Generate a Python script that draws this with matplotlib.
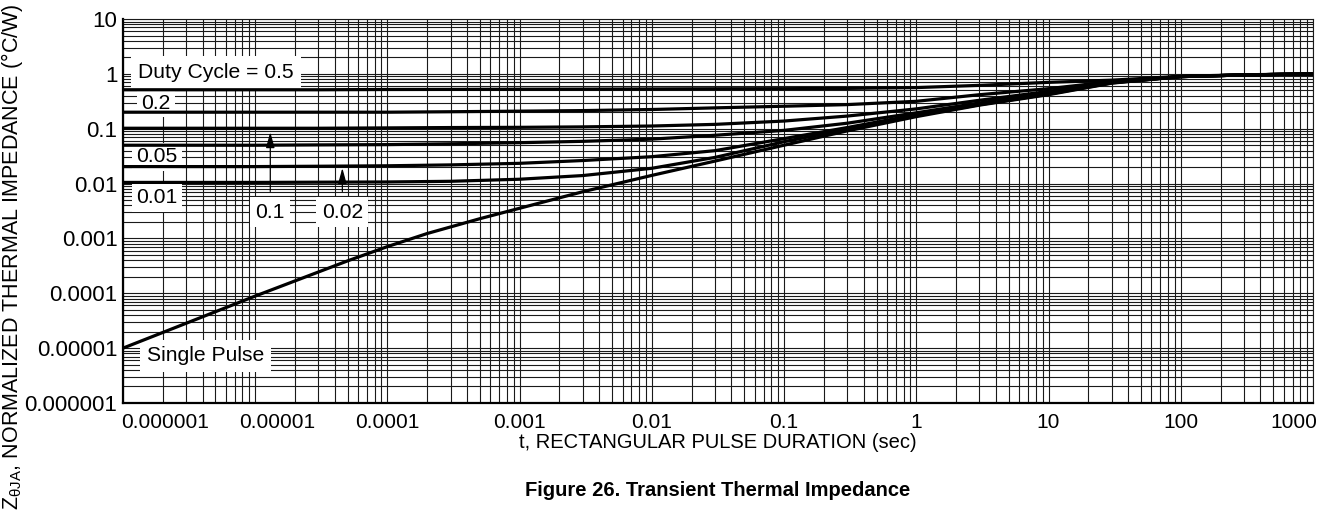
import numpy as np
import matplotlib
matplotlib.use("Agg")
import matplotlib.pyplot as plt
from matplotlib.ticker import LogLocator, NullFormatter

plt.rcParams['font.family'] = ['Liberation Sans', 'DejaVu Sans']
plt.rcParams['mathtext.fontset'] = 'custom'
plt.rcParams['mathtext.rm'] = 'Liberation Sans'
plt.rcParams['mathtext.it'] = 'Liberation Sans:italic'

# pulse duration (sec)
t = [1e-6, 3e-6, 1e-5, 3e-5, 1e-4, 3e-4, 1e-3, 3e-3, 1e-2, 3e-2,
     0.1, 0.3, 1, 3, 10, 30, 100, 300, 1000]

z_d05 = [0.513, 0.513, 0.513, 0.513, 0.519, 0.521, 0.525, 0.527, 0.531, 0.535,
         0.537, 0.543, 0.562, 0.617, 0.700, 0.767, 0.902, 0.962, 1.0]
z_d02 = [0.2, 0.2, 0.2, 0.2, 0.2, 0.204, 0.209, 0.214, 0.224, 0.240,
         0.257, 0.275, 0.316, 0.417, 0.537, 0.724, 0.891, 0.955, 1.0]
z_d01 = [0.102, 0.102, 0.102, 0.102, 0.1035, 0.105, 0.106, 0.108, 0.112, 0.120,
         0.138, 0.170, 0.230, 0.330, 0.479, 0.708, 0.891, 0.955, 1.0]
z_d005 = [0.050, 0.050, 0.050, 0.0507, 0.0513, 0.0531, 0.0556, 0.0589, 0.0646, 0.0759,
          0.0933, 0.126, 0.195, 0.295, 0.452, 0.700, 0.891, 0.955, 1.0]
z_d002 = [0.0204, 0.0204, 0.0204, 0.0207, 0.0211, 0.0219, 0.0234, 0.0263, 0.0309, 0.0398,
          0.066, 0.105, 0.180, 0.280, 0.437, 0.692, 0.891, 0.955, 1.0]
z_d001 = [0.0105, 0.0105, 0.0105, 0.0106, 0.0107, 0.011, 0.012, 0.0140, 0.019, 0.030,
          0.058, 0.098, 0.174, 0.274, 0.427, 0.684, 0.891, 0.955, 1.0]

# single pulse, read a bit denser where it bends
t_single = [1e-6, 1e-5, 5e-5, 1e-4, 2e-4, 5e-4, 1e-3, 3e-3, 1e-2, 3e-2,
            0.1, 0.3, 1, 3, 10, 30, 100, 300, 1000]
z_single = [1.0e-5, 8.9e-5, 3.9e-4, 7.1e-4, 1.23e-3, 2.29e-3, 3.55e-3, 7.1e-3, 0.0141, 0.0257,
            0.0501, 0.0912, 0.166, 0.269, 0.417, 0.676, 0.891, 0.955, 1.0]

# axis tick labels (x labels sit where the datasheet printed them)
x_label_pos = [2.08e-6, 1.47e-5, 1e-4, 1e-3, 1e-2, 0.1, 1, 10, 100, 718]
x_labels = ['0.000001', '0.00001', '0.0001', '0.001', '0.01', '0.1', '1', '10', '100', '1000']
y_ticks = [1e-6, 1e-5, 1e-4, 1e-3, 1e-2, 0.1, 1, 10]
y_labels = ['0.000001', '0.00001', '0.0001', '0.001', '0.01', '0.1', '1', '10']

fig = plt.figure(figsize=(13.29, 5.14), dpi=100)
ax = fig.add_axes([123/1329, 111/514, 1190/1329, 384/514])
ax.set_xscale('log')
ax.set_yscale('log')
ax.set_xlim(1e-6, 1000)
ax.set_ylim(1e-6, 10)

for z in [z_d05, z_d02, z_d01, z_d005, z_d002, z_d001]:
    ax.plot(t, z, color='black', lw=2.3, solid_capstyle='butt', zorder=4)
ax.plot(t_single, z_single, color='black', lw=2.3, solid_capstyle='butt', zorder=4)

# grid on every 1..9 of each decade
for axis in [ax.xaxis, ax.yaxis]:
    axis.set_minor_locator(LogLocator(base=10, subs=np.arange(1, 10), numticks=100))
    axis.set_minor_formatter(NullFormatter())
    axis.remove_overlapping_locs = False
ax.set_xticks(x_label_pos, labels=x_labels)
ax.set_yticks(y_ticks, labels=y_labels)
ax.grid(False, which='major')
ax.grid(True, which='minor', color='#1a1a1a', lw=0.8, zorder=0)
ax.tick_params(which='both', length=0)
ax.tick_params(axis='x', pad=7, labelsize=15)
ax.tick_params(axis='y', pad=4, labelsize=16)
ax.set_axisbelow(True)

for side in ['left', 'bottom']:
    ax.spines[side].set_linewidth(1.6)
for side in ['top', 'right']:
    ax.spines[side].set_linewidth(0.8)
    ax.spines[side].set_color('#1a1a1a')

fs = 15.2
box = dict(facecolor='white', edgecolor='none', pad=5)
small_box = dict(facecolor='white', edgecolor='none', pad=3)
ax.text(5.07e-6, 1.04, 'Duty Cycle = 0.5', fontsize=fs, ha='center', va='center', bbox=box, zorder=3)
ax.text(1.78e-6, 0.294, '0.2', fontsize=fs, ha='center', va='center', bbox=small_box, zorder=3)
ax.text(1.81e-6, 0.0306, '0.05', fontsize=fs, ha='center', va='center', bbox=small_box, zorder=3)
ax.text(1.81e-6, 5.46e-3, '0.01', fontsize=fs, ha='center', va='center', bbox=small_box, zorder=3)
ax.text(4.18e-6, 7.2e-6, 'Single Pulse', fontsize=fs, ha='center', va='center', bbox=box, zorder=3)

arrow = dict(arrowstyle='-|>,head_length=0.95,head_width=0.26', mutation_scale=10,
             color='black', lw=0.9, shrinkA=4, shrinkB=0)
ax.annotate('0.1', xy=(1.3e-5, 0.087), xytext=(1.3e-5, 3.03e-3), fontsize=fs,
            ha='center', va='center', arrowprops=arrow,
            bbox=dict(facecolor='white', edgecolor='none', pad=4), zorder=5)
ax.annotate('0.02', xy=(4.56e-5, 0.0192), xytext=(4.56e-5, 3.03e-3), fontsize=fs,
            ha='center', va='center', arrowprops=arrow,
            bbox=dict(facecolor='white', edgecolor='none', pad=4), zorder=5)

fig.text(718/1329, 1 - 443/514, 't, RECTANGULAR PULSE DURATION (sec)', fontsize=14.5,
         ha='center', va='center')
fig.text(718/1329, 1 - 490/514, 'Figure 26. Transient Thermal Impedance', fontsize=14.5,
         ha='center', va='center', fontweight='bold')
fig.text(12.5/1329, 0.5, r'Z$_{\mathrm{\theta JA}}$, NORMALIZED THERMAL IMPEDANCE (°C/W)',
         fontsize=15.5, rotation=90, ha='center', va='center')

fig.savefig('out.png', dpi=100)
